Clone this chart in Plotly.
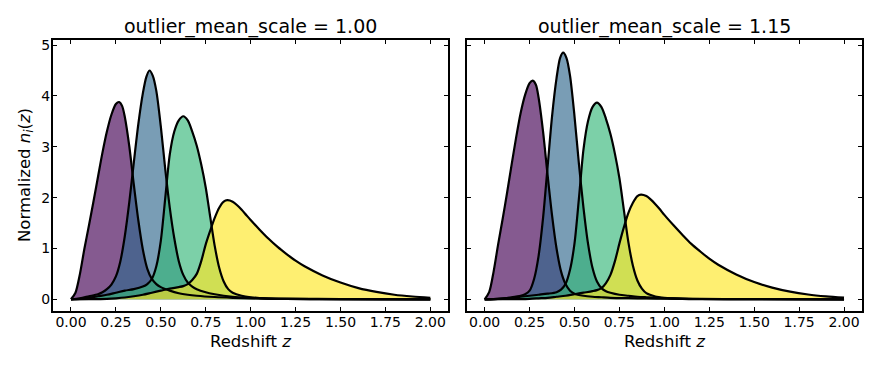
import plotly.graph_objects as go

# ---------------- data ----------------
panel_titles = ["outlier_mean_scale = 1.00", "outlier_mean_scale = 1.15"]
bin_colors = ["rgba(68,1,84,0.65)", "rgba(49,104,142,0.65)",
              "rgba(53,183,121,0.65)", "rgba(253,231,37,0.65)"]
x_tick_vals = [0, 0.25, 0.5, 0.75, 1.0, 1.25, 1.5, 1.75, 2.0]
x_tick_text = ["0.00", "0.25", "0.50", "0.75", "1.00", "1.25", "1.50", "1.75", "2.00"]
y_tick_vals = [0, 1, 2, 3, 4, 5]

z_bin0 = [0, 0.025, 0.05, 0.075, 0.1, 0.125, 0.15, 0.175, 0.2, 0.225, 0.25, 0.268, 0.285,
          0.3, 0.325, 0.35, 0.375, 0.4, 0.425, 0.45, 0.475, 0.5, 0.55, 0.6, 0.65, 0.7,
          0.8, 0.9, 1.0, 1.2, 1.5, 2.0]
z_bin1 = [0, 0.05, 0.1, 0.15, 0.175, 0.2, 0.225, 0.25, 0.275, 0.3, 0.325, 0.35, 0.375,
          0.4, 0.42, 0.437, 0.455, 0.475, 0.5, 0.525, 0.55, 0.575, 0.6, 0.625, 0.65,
          0.675, 0.7, 0.75, 0.8, 0.85, 0.9, 1.0, 1.1, 1.2, 1.4, 2.0]
z_bin2 = [0, 0.05, 0.1, 0.15, 0.2, 0.25, 0.3, 0.35, 0.4, 0.425, 0.45, 0.475, 0.5, 0.525,
          0.55, 0.575, 0.6, 0.625, 0.65, 0.675, 0.7, 0.725, 0.75, 0.775, 0.8, 0.825,
          0.85, 0.875, 0.9, 0.95, 1.0, 1.05, 1.1, 1.2, 1.4, 2.0]
z_bin3 = [0, 0.1, 0.2, 0.25, 0.3, 0.35, 0.4, 0.45, 0.5, 0.55, 0.6, 0.625, 0.65, 0.675,
          0.7, 0.725, 0.75, 0.775, 0.8, 0.825, 0.85, 0.87, 0.9, 0.925, 0.95, 0.975, 1.0,
          1.05, 1.1, 1.15, 1.2, 1.25, 1.3, 1.4, 1.5, 1.6, 1.7, 1.8, 1.9, 2.0]

# outlier_mean_scale = 1.00
nz_a_bin0 = [0, 0.13, 0.5, 1.0, 1.45, 1.92, 2.4, 2.88, 3.3, 3.63, 3.84, 3.88, 3.8,
             3.58, 3.0, 2.25, 1.55, 0.98, 0.6, 0.4, 0.3, 0.24, 0.17, 0.12, 0.09, 0.07,
             0.045, 0.03, 0.02, 0.01, 0.005, 0.0]
nz_a_bin1 = [0, 0.02, 0.06, 0.1, 0.14, 0.2, 0.29, 0.45, 0.75, 1.25, 1.92, 2.7, 3.45,
             4.05, 4.38, 4.5, 4.4, 4.1, 3.4, 2.55, 1.8, 1.2, 0.75, 0.48, 0.33,
             0.25, 0.2, 0.14, 0.1, 0.07, 0.05, 0.03, 0.015, 0.008, 0.003, 0.0]
nz_a_bin2 = [0, 0.01, 0.03, 0.06, 0.09, 0.13, 0.17, 0.2, 0.25, 0.3, 0.4, 0.65, 1.15, 2.0,
             2.85, 3.3, 3.52, 3.6, 3.52, 3.3, 3.02, 2.65, 2.2, 1.62, 1.05, 0.62,
             0.35, 0.2, 0.13, 0.07, 0.04, 0.025, 0.015, 0.008, 0.003, 0.0]
nz_a_bin3 = [0, 0.003, 0.01, 0.02, 0.035, 0.06, 0.09, 0.13, 0.17, 0.21, 0.24, 0.26, 0.3, 0.38,
             0.5, 0.75, 1.08, 1.35, 1.6, 1.8, 1.92, 1.95, 1.92, 1.85, 1.76, 1.66, 1.56,
             1.37, 1.19, 1.03, 0.89, 0.76, 0.65, 0.47, 0.33, 0.22, 0.145, 0.09, 0.055, 0.03]

# outlier_mean_scale = 1.15
nz_b_bin0 = [0, 0.14, 0.55, 1.08, 1.58, 2.1, 2.65, 3.18, 3.66, 4.02, 4.25, 4.3, 4.22,
             3.97, 3.3, 2.45, 1.65, 1.0, 0.55, 0.3, 0.17, 0.11, 0.07, 0.05, 0.04, 0.03,
             0.022, 0.016, 0.012, 0.006, 0.003, 0.0]
nz_b_bin1 = [0, 0.005, 0.02, 0.04, 0.055, 0.07, 0.1, 0.17, 0.4, 0.85, 1.6, 2.6, 3.6,
             4.35, 4.75, 4.85, 4.75, 4.4, 3.6, 2.65, 1.8, 1.1, 0.62, 0.35, 0.22,
             0.16, 0.13, 0.09, 0.07, 0.05, 0.04, 0.025, 0.015, 0.008, 0.003, 0.0]
nz_b_bin2 = [0, 0.005, 0.015, 0.03, 0.05, 0.07, 0.09, 0.11, 0.14, 0.19, 0.3, 0.58, 1.1, 2.0,
             2.95, 3.5, 3.78, 3.87, 3.78, 3.55, 3.25, 2.86, 2.38, 1.75, 1.12, 0.66,
             0.37, 0.21, 0.12, 0.055, 0.03, 0.018, 0.01, 0.005, 0.002, 0.0]
nz_b_bin3 = [0, 0.002, 0.005, 0.01, 0.02, 0.03, 0.05, 0.07, 0.1, 0.13, 0.16, 0.18, 0.22, 0.32,
             0.48, 0.75, 1.1, 1.42, 1.7, 1.9, 2.03, 2.06, 2.03, 1.96, 1.87, 1.77, 1.66,
             1.46, 1.27, 1.09, 0.94, 0.8, 0.68, 0.49, 0.34, 0.23, 0.15, 0.095, 0.058, 0.032]

z_grids = [z_bin0, z_bin1, z_bin2, z_bin3]
panels = [[nz_a_bin0, nz_a_bin1, nz_a_bin2, nz_a_bin3],
          [nz_b_bin0, nz_b_bin1, nz_b_bin2, nz_b_bin3]]

# ---------------- figure ----------------
FONT = "DejaVu Sans"
W, H = 880, 368
ML, MR, MT, MB = 53, 18, 40, 57
PW = W - ML - MR
PH = H - MT - MB
domains = [[0.0, (448.3 - ML) / PW], [(466.7 - ML) / PW, 1.0]]

fig = go.Figure()
for p, series in enumerate(panels):
    xa = "x" if p == 0 else "x2"
    ya = "y" if p == 0 else "y2"
    # fills first
    for i, nz in enumerate(series):
        fig.add_trace(go.Scatter(x=z_grids[i], y=nz, mode="none", fill="tozeroy",
                                 fillcolor=bin_colors[i], line=dict(shape="spline", smoothing=0.8),
                                 xaxis=xa, yaxis=ya, showlegend=False, hoverinfo="skip"))
    # black outlines on top
    for i, nz in enumerate(series):
        fig.add_trace(go.Scatter(x=z_grids[i], y=nz, mode="lines",
                                 line=dict(color="black", width=2.2, shape="spline", smoothing=0.8),
                                 xaxis=xa, yaxis=ya, showlegend=False, hoverinfo="skip"))

axis_common = dict(showline=True, linecolor="black", linewidth=2, mirror="allticks",
                   ticks="inside", ticklen=4, tickwidth=1, tickcolor="black",
                   showgrid=False, zeroline=False,
                   tickfont=dict(family=FONT, size=14, color="black"))

fig.update_layout(
    width=W, height=H, margin=dict(l=ML, r=MR, t=MT, b=MB),
    paper_bgcolor="white", plot_bgcolor="white",
    font=dict(family=FONT, color="black"),
    xaxis=dict(domain=domains[0], range=[-0.1, 2.1], tickvals=x_tick_vals,
               ticktext=x_tick_text, anchor="y", ticklabelstandoff=-3, **axis_common),
    xaxis2=dict(domain=domains[1], range=[-0.1, 2.1], tickvals=x_tick_vals,
                ticktext=x_tick_text, anchor="y2", ticklabelstandoff=-3, **axis_common),
    yaxis=dict(domain=[0, 1], range=[-0.23, 5.1], tickvals=y_tick_vals, anchor="x",
               ticklabelstandoff=-2, **axis_common),
    yaxis2=dict(domain=[0, 1], range=[-0.23, 5.1], tickvals=y_tick_vals, anchor="x2",
                showticklabels=False, **axis_common),
)

def px_to_paper_y(py):
    return (H - MB - py) / PH

annots = []
for p in range(2):
    cx = (domains[p][0] + domains[p][1]) / 2
    annots.append(dict(text=panel_titles[p], x=cx, y=px_to_paper_y(26), xref="paper", yref="paper",
                       xanchor="center", yanchor="middle", showarrow=False,
                       font=dict(family=FONT, size=19, color="black")))
    annots.append(dict(text="Redshift <i>z</i>", x=cx, y=px_to_paper_y(341.5), xref="paper",
                       yref="paper", xanchor="center", yanchor="middle", showarrow=False,
                       font=dict(family=FONT, size=16.5, color="black")))
annots.append(dict(text="Normalized <i>n<sub>i</sub></i>(<i>z</i>)", x=(25.5 - ML) / PW,
                   y=0.5, xref="paper", yref="paper", xanchor="center", yanchor="middle",
                   textangle=-90, showarrow=False,
                   font=dict(family=FONT, size=16.5, color="black")))
fig.update_layout(annotations=annots)

fig.write_html("out.html", config={"displayModeBar": False, "staticPlot": True},
               post_script="document.body.style.margin='0';document.body.style.padding='0';")
